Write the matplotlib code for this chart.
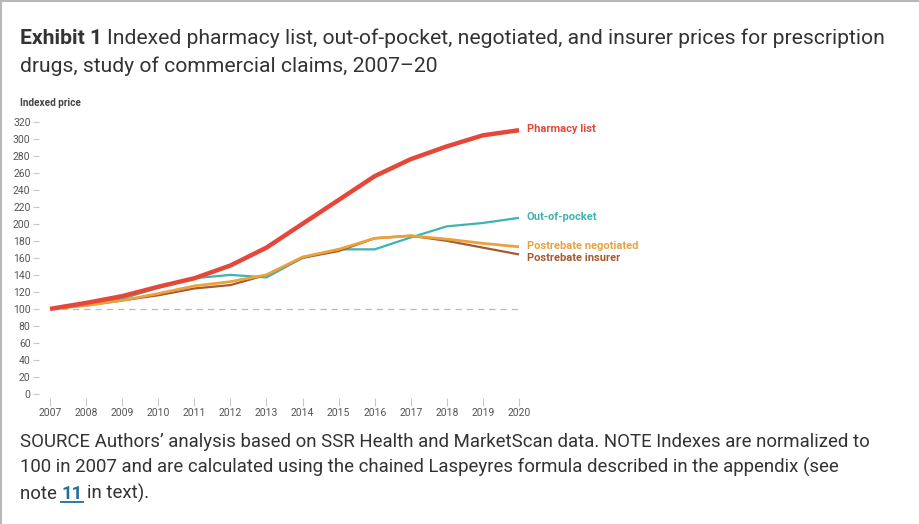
import matplotlib
matplotlib.use("Agg")
import matplotlib.pyplot as plt
from matplotlib.lines import Line2D

years = [2007, 2008, 2009, 2010, 2011, 2012, 2013, 2014, 2015, 2016, 2017, 2018, 2019, 2020]
pharmacy_list = [100, 107, 115, 126, 136, 151, 172, 200, 228, 256, 276, 291, 304, 310]
out_of_pocket = [100, 105, 112, 125, 136, 140, 137, 160, 170, 170, 184, 197, 201, 207]
negotiated = [100, 104, 110, 118, 127, 132, 140, 161, 170, 183, 186, 182, 177, 173]
insurer = [100, 104, 110, 116, 124, 128, 140, 160, 168, 183, 186, 180, 172, 164]
series_labels = ["Pharmacy list", "Out-of-pocket", "Postrebate negotiated", "Postrebate insurer"]
label_y = [312, 208, 174, 160]
yticks = list(range(0, 321, 20))

W, H = 919, 524
fig = plt.figure(figsize=(W / 100, H / 100), dpi=100)
fig.patch.set_facecolor("white")

def fx(px):
    return px / W

def fy(py):
    return 1 - py / H

# border
fig.add_artist(Line2D([0, 1], [fy(1), fy(1)], color="#b8b8b8", lw=1.5, transform=fig.transFigure))
fig.add_artist(Line2D([fx(1), fx(1)], [0, 1], color="#b8b8b8", lw=1.5, transform=fig.transFigure))

ax = fig.add_axes([fx(50), fy(394), fx(519) - fx(50), (394 - 121.7) / H])
colors = ["#e5473a", "#3db3b2", "#eba23c", "#a65a2f"]
widths = [3.2, 1.6, 2.0, 1.6]
data = [pharmacy_list, out_of_pocket, negotiated, insurer]
order = [1, 3, 2, 0]
ax.axhline(100, color="#b9b9b9", lw=0.9, ls=(0, (5, 4)), zorder=1)
for i in order:
    ax.plot(years, data[i], color=colors[i], lw=widths[i], solid_capstyle="butt",
            solid_joinstyle="round", clip_on=False, zorder=3 + (i == 0))
for i, lab in enumerate(series_labels):
    ax.text(2020.22, label_y[i], lab, color=colors[i], fontsize=8.0, fontweight="bold",
            family="Roboto", va="center", ha="left")

ax.set_xlim(2007, 2020)
ax.set_ylim(0, 320)
for s in ax.spines.values():
    s.set_visible(False)
ax.spines["left"].set_position(("outward", 8))
ax.spines["bottom"].set_position(("outward", 3))
ax.set_yticks(yticks)
ax.set_xticks(years)
ax.tick_params(axis="y", length=4, width=0.8, color="#c8c8c8", pad=2, labelsize=7.5, labelcolor="#555555")
ax.tick_params(axis="x", length=6, width=0.8, color="#c8c8c8", pad=1, labelsize=7.5, labelcolor="#555555")
for t in ax.get_xticklabels() + ax.get_yticklabels():
    t.set_family("Roboto")
ax.patch.set_alpha(0)

fig.text(fx(20), fy(103), "Indexed price", fontsize=7.2, fontweight="bold", color="#444444",
         family="Roboto", va="center", ha="left")

# title
r = fig.canvas.get_renderer()
tsize = 15.2
t1 = fig.text(fx(20), fy(44), "Exhibit 1", fontsize=tsize, fontweight="bold", color="#333333",
              family="Roboto", va="baseline", ha="left")
bb = t1.get_window_extent(r)
fig.text(bb.x1 / W + fx(5), fy(44), "Indexed pharmacy list, out-of-pocket, negotiated, and insurer prices for prescription",
         fontsize=tsize, color="#333333", family="Roboto", va="baseline", ha="left")
fig.text(fx(20), fy(72), "drugs, study of commercial claims, 2007\u201320",
         fontsize=tsize, color="#333333", family="Roboto", va="baseline", ha="left")

ssize = 13.4
fig.text(fx(20), fy(447), "SOURCE Authors\u2019 analysis based on SSR Health and MarketScan data. NOTE Indexes are normalized to",
         fontsize=ssize, color="#333333", family="Roboto", va="baseline", ha="left")
fig.text(fx(20), fy(473), "100 in 2007 and are calculated using the chained Laspeyres formula described in the appendix (see",
         fontsize=ssize, color="#333333", family="Roboto", va="baseline", ha="left")
n1 = fig.text(fx(20), fy(499), "note ", fontsize=ssize, color="#333333", family="Roboto", va="baseline", ha="left")
b1 = n1.get_window_extent(r)
n2 = fig.text(b1.x1 / W, fy(499), "11", fontsize=ssize, color="#1f6f98", fontweight="bold", family="Roboto",
              va="baseline", ha="left")
b2 = n2.get_window_extent(r)
fig.add_artist(Line2D([b2.x0 / W, b2.x1 / W], [fy(502), fy(502)], color="#1f6f98", lw=1.3, transform=fig.transFigure))
fig.text(b2.x1 / W + fx(4), fy(499), "in text).", fontsize=ssize, color="#333333", family="Roboto",
         va="baseline", ha="left")

fig.savefig("out.png", dpi=100, facecolor="white")
